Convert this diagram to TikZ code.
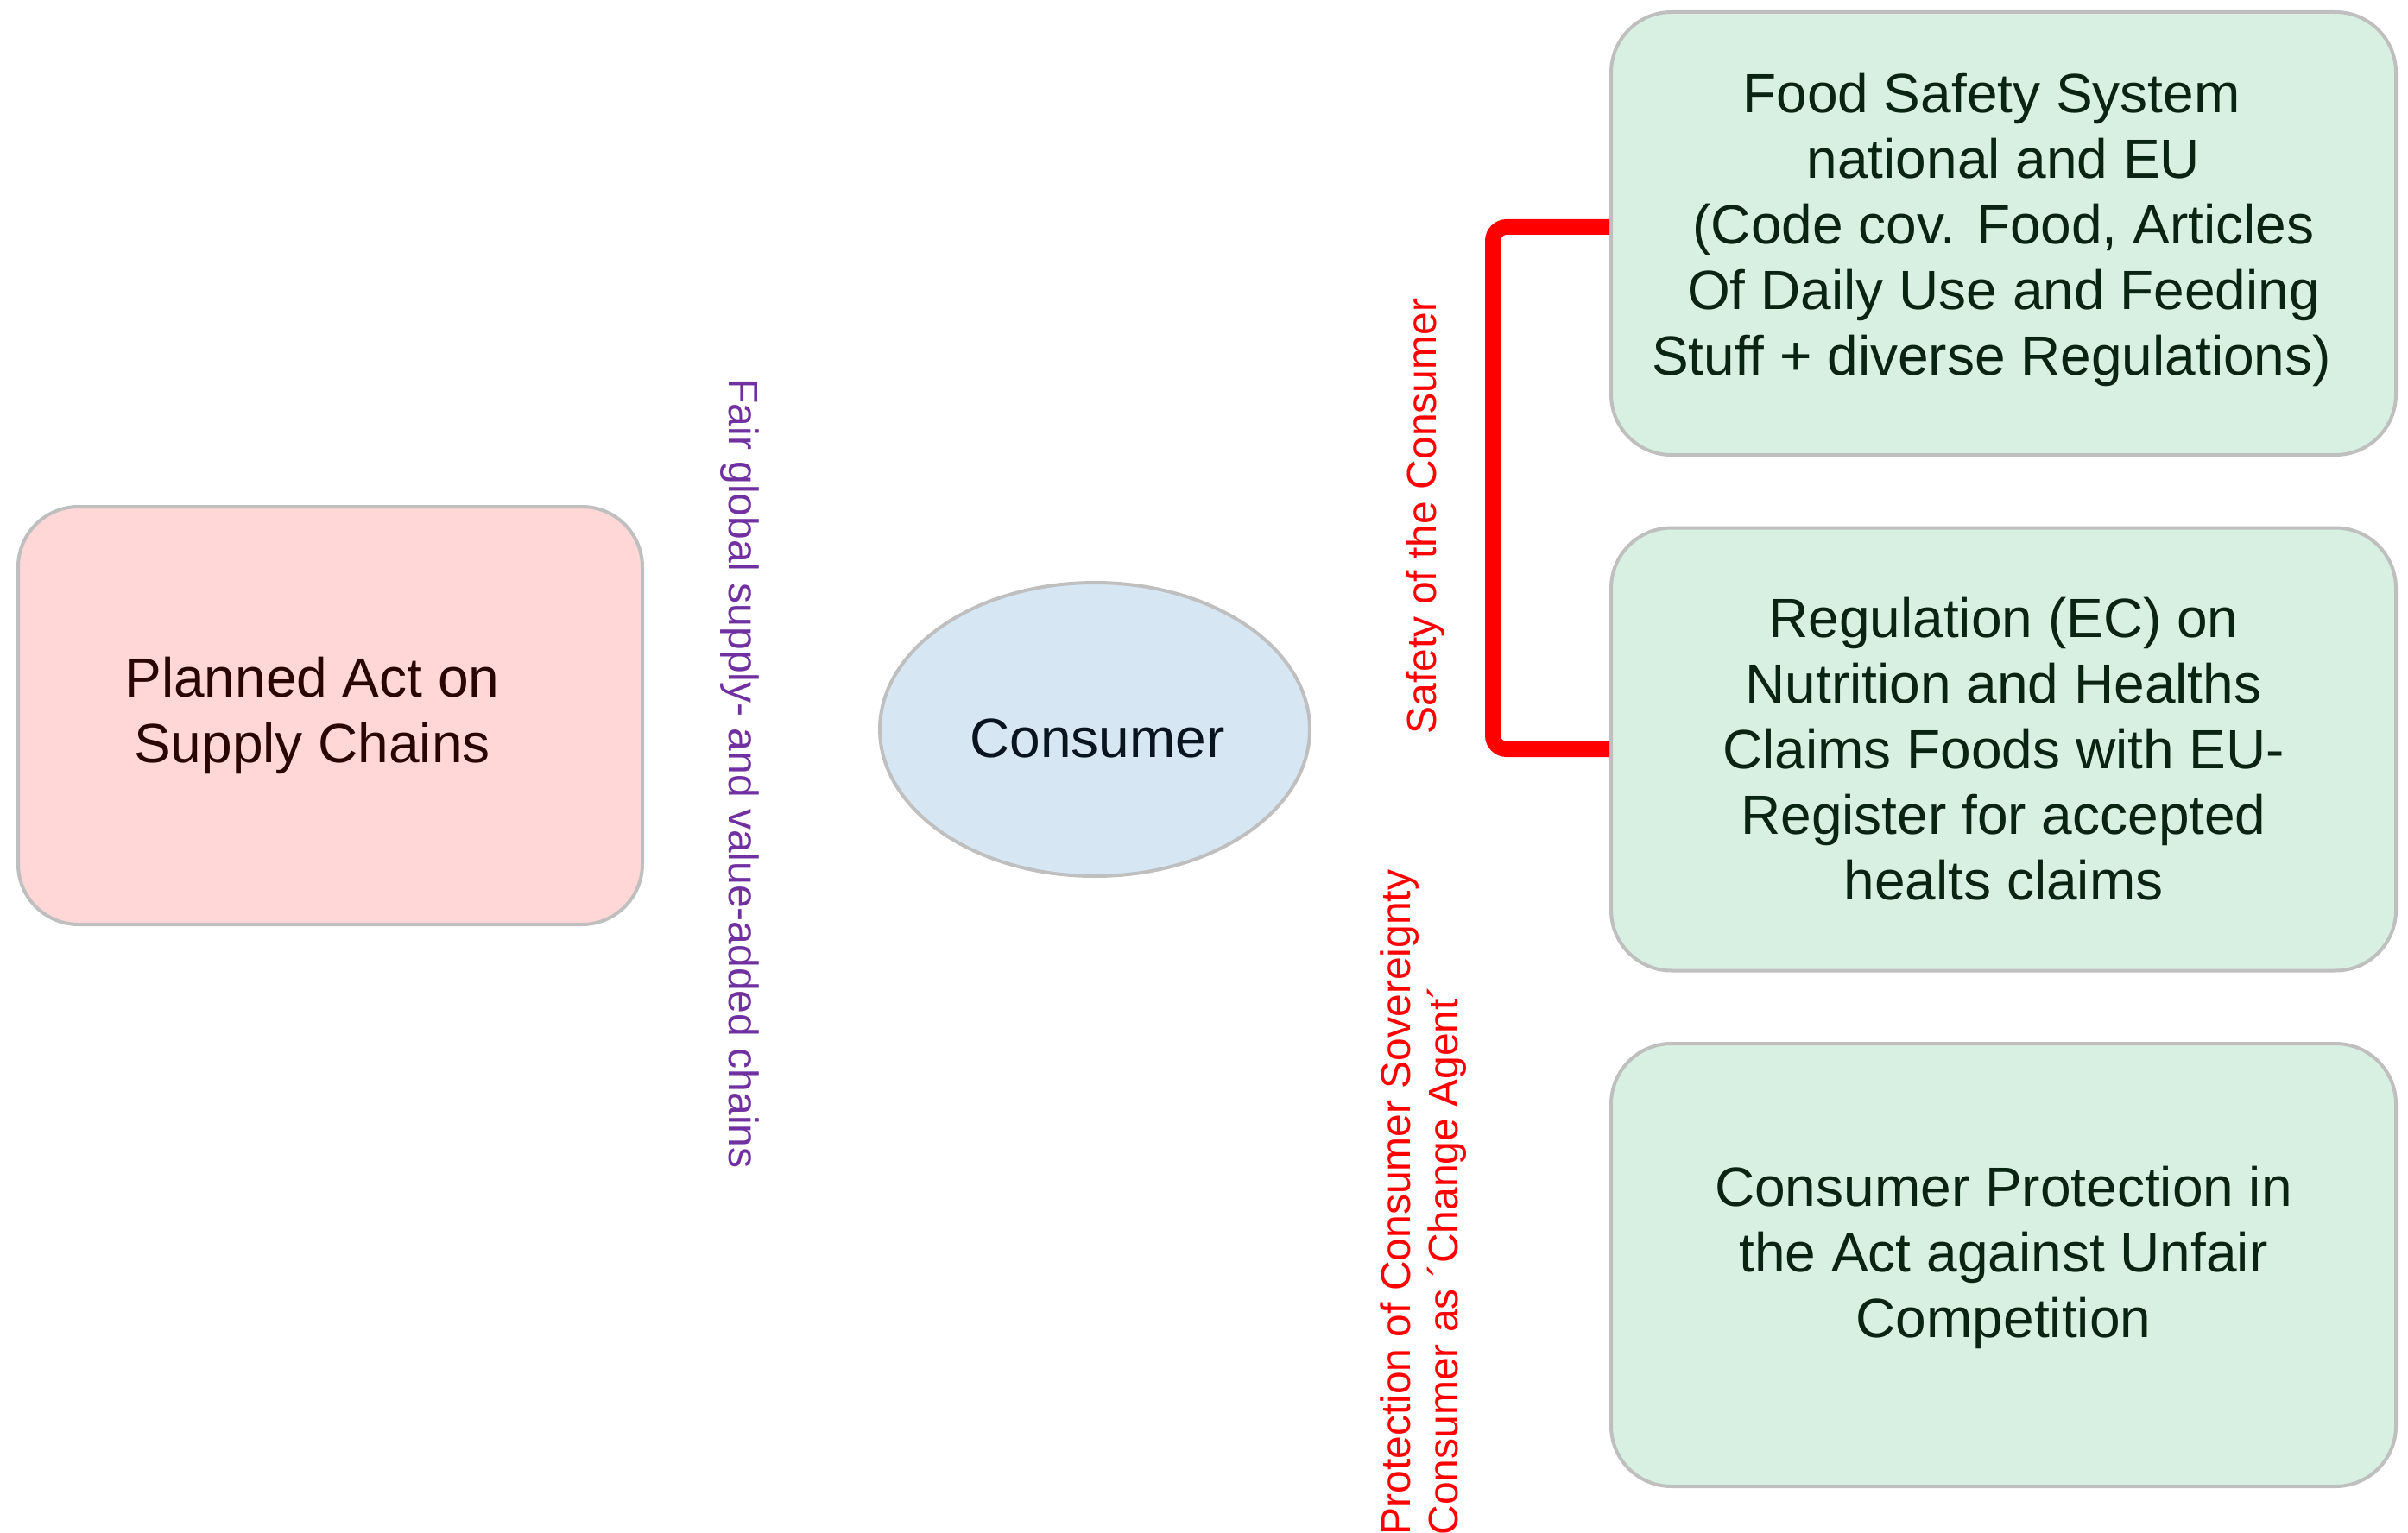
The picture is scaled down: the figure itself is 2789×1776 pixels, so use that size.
\documentclass[tikz,border=0pt]{standalone}
\usepackage{fontspec}
\setmainfont{Liberation Sans}
\usetikzlibrary{shapes.geometric}
\definecolor{pinkfill}{HTML}{FFD7D7}
\definecolor{bluefill}{HTML}{D6E7F3}
\definecolor{greenfill}{HTML}{D7F0E1}
\definecolor{bordergray}{HTML}{BFBFBF}
\definecolor{pinktext}{HTML}{2A0505}
\definecolor{bluetext}{HTML}{08141F}
\definecolor{greentext}{HTML}{0A2414}
\definecolor{labelpurple}{HTML}{7030A0}
\definecolor{labelred}{HTML}{FF0000}
\tikzset{
  boxbase/.style={draw=bordergray, line width=2pt, rounded corners=35pt, align=center,
    font=\fontsize{32}{38}\selectfont, inner sep=0pt},
  pinkbox/.style={boxbase, fill=pinkfill, text=pinktext, minimum width=361.5pt, minimum height=242pt},
  greenbox/.style={boxbase, fill=greenfill, text=greentext, minimum width=454.5pt, minimum height=256.5pt},
  ellbox/.style={ellipse, draw=bordergray, line width=2pt, fill=bluefill, text=bluetext,
    minimum width=249pt, minimum height=170pt, inner sep=0pt, font=\fontsize{32}{38}\selectfont},
  sidelabel/.style={font=\fontsize{24}{27.5}\selectfont, inner sep=0pt},
  bracketline/.style={draw=labelred, line width=9pt, rounded corners=8pt}
}
\begin{document}
\begin{tikzpicture}[x=0.5pt,y=-0.5pt]
\useasboundingbox (0,0) rectangle (2789,1776);
\node[pinkbox] (act) at (382.5,829) {Planned Act on\hspace*{21pt}\\Supply Chains\hspace*{21pt}};
\node[ellbox] (cons) at (1268,845) {\hspace*{3pt}\raisebox{-5.3pt}[\height][\depth]{Consumer}};
\node[greenbox, text depth=10.8pt] (g1) at (2320.5,270.5) {Food Safety System\hspace*{14pt}\\national and EU\hspace*{14pt}\\(Code cov. Food, Articles\hspace*{14pt}\\Of Daily Use and Feeding\hspace*{14pt}\\Stuff + diverse Regulations)\hspace*{14pt}};
\node[greenbox] (g2) at (2320.5,868) {Regulation (EC) on\\Nutrition and Healths\\Claims Foods with EU-\\Register for accepted\\healts claims};
\node[greenbox, text depth=15.7pt] (g3) at (2320.5,1465.5) {Consumer Protection in\\the Act against Unfair\\Competition};
\node[sidelabel, text=labelpurple, rotate=-90] (fair) at (857,896) {Fair global supply- and value-added chains};
\node[sidelabel, text=labelred, rotate=90] (safety) at (1651,598) {Safety of the Consumer};
\node[sidelabel, text=labelred, rotate=90, anchor=west, align=left] (prot) at (1649,1779) {Protection of Consumer Sovereignty\\Consumer as ´Change Agent´};
\draw[bracketline] ([yshift=3.75pt]g1.west) -- ++(-135,0) |- (g2.west);
\end{tikzpicture}
\end{document}
